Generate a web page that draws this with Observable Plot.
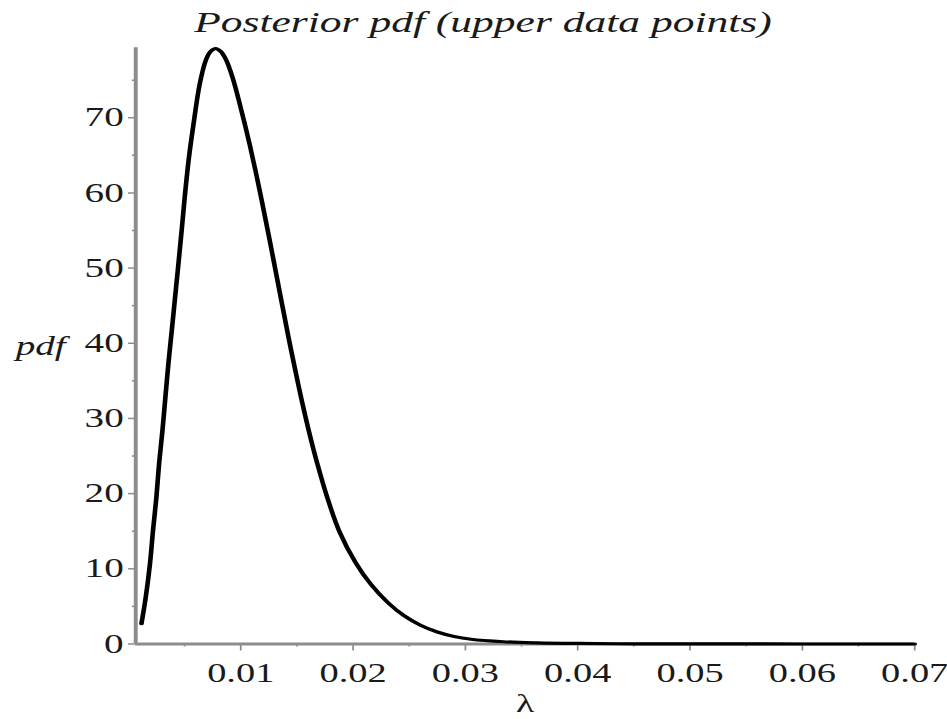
<!DOCTYPE html>
<html>
<head>
<meta charset="utf-8">
<script src="https://cdn.jsdelivr.net/npm/d3@7"></script>
<script src="https://cdn.jsdelivr.net/npm/@observablehq/plot@0.6"></script>
<style>
  html, body { margin: 0; padding: 0; background: #fff; overflow: hidden; }
  #wrap { transform-origin: 0 0; }
  #title {
    font-family: "Liberation Serif", "Times New Roman", Times, serif;
    font-style: italic;
    font-size: 30px;
    line-height: 44px;
    height: 44px;
    text-align: center;
    color: #1a1a1a;
    white-space: nowrap;
  }
</style>
</head>
<body>
<div id="wrap">
  <div id="title">Posterior pdf (upper data points)</div>
  <div id="chart"></div>
</div>
<script>
// Curve (λ, pdf)
const lambdaValues = [
  0.00116, 0.00154, 0.00192, 0.00219, 0.00249, 0.00273, 0.00303, 0.00329, 0.00356, 0.00386,
  0.00418, 0.00448, 0.00477, 0.00505, 0.00537, 0.00578, 0.00635, 0.00688, 0.00730, 0.00777,
  0.00822, 0.00866, 0.00926, 0.01005, 0.01080, 0.01142, 0.01199, 0.01255, 0.01312, 0.01369,
  0.01425, 0.01480, 0.01543, 0.01610, 0.01685, 0.01772, 0.01880, 0.02020, 0.02160, 0.02310,
  0.02450, 0.02600, 0.02750, 0.02900, 0.03050, 0.03340, 0.03640, 0.04000, 0.04500, 0.05000,
  0.06000, 0.07000
];
const pdfValues = [
  2.7, 6.2, 10.7, 15.1, 19.5, 24.0, 28.4, 32.8, 37.3, 41.7,
  46.5, 51.0, 55.5, 60.0, 64.5, 69.0, 74.5, 77.6, 78.8, 79.2,
  78.8, 77.8, 75.4, 71.0, 66.4, 62.2, 58.1, 53.9, 49.5, 45.1,
  40.8, 36.8, 32.4, 28.1, 23.8, 19.4, 14.9, 10.9, 7.9, 5.5,
  3.8, 2.5, 1.6, 1.0, 0.63, 0.3, 0.15, 0.07, 0.02, 0.01,
  0.0, 0.0
];
const xMajorTicks = [0.01, 0.02, 0.03, 0.04, 0.05, 0.06, 0.07];
const xMinorTicks = [0.005, 0.015, 0.025, 0.035, 0.045, 0.055, 0.065];
const yMajorTicks = [0, 10, 20, 30, 40, 50, 60, 70];
const yMinorTicks = [5, 15, 25, 35, 45, 55, 65, 75];
const xDomain = [0.00065, 0.07];
const yDomain = [0, 79.3];
const xLabel = "λ";
const yLabel = "pdf";

const S = 1.45; // horizontal stretch of the reference image
const W = 947 / S;
const H = 675;
document.getElementById("wrap").style.width = W + "px";
document.getElementById("wrap").style.transform = `scaleX(${S})`;
document.getElementById("title").style.paddingLeft = (19 / S) + "px";

const data = lambdaValues.map((x, i) => ({x, y: pdfValues[i]}));
const axisGray = "#8c8c8c";
const textColor = "#1a1a1a";
const serif = "'Liberation Serif', 'Times New Roman', Times, serif";

const chart = Plot.plot({
  width: W,
  height: H,
  marginLeft: 135 / S,
  marginRight: 33 / S,
  marginTop: 3.3,
  marginBottom: 75.5,
  style: {fontFamily: serif, fontSize: "27px", color: textColor, background: "#fff"},
  x: {domain: xDomain},
  y: {domain: yDomain},
  marks: [
    Plot.axisX({ticks: xMinorTicks, tickSize: 3, tickFormat: () => "", label: null, stroke: axisGray, strokeWidth: 1.2}),
    Plot.axisX({ticks: xMajorTicks, tickSize: 7, tickPadding: 11.7, tickFormat: d => String(d), label: null,
      stroke: axisGray, strokeWidth: 1.2, fill: textColor, fontSize: 26.5, fontFamily: serif}),
    Plot.axisY({ticks: yMinorTicks, tickSize: 2.2, tickFormat: () => "", label: null, stroke: axisGray, strokeWidth: 1.5}),
    Plot.axisY({ticks: yMajorTicks, tickSize: 4.8, tickPadding: 3.5, tickFormat: d => String(d), label: null,
      stroke: axisGray, strokeWidth: 1.5, fill: textColor, fontSize: 27, fontFamily: serif}),
    Plot.ruleY([0], {stroke: axisGray, strokeWidth: 2.8}),
    Plot.ruleX([xDomain[0]], {stroke: axisGray, strokeWidth: 2.7}),
    Plot.line(data, {x: "x", y: "y", stroke: "#000", strokeWidth: 3.2, curve: "catmull-rom"}),
    Plot.text([yLabel], {frameAnchor: "left", text: d => d, dx: -48.3, dy: 0, textAnchor: "end",
      lineAnchor: "middle", fontStyle: "italic", fontSize: 27, fontFamily: serif, fill: textColor}),
    Plot.text([xLabel], {frameAnchor: "bottom", text: d => d, dy: 60, lineAnchor: "middle",
      fontSize: 26, fontFamily: serif, fill: textColor})
  ]
});
document.getElementById("chart").appendChild(chart);
</script>
</body>
</html>
